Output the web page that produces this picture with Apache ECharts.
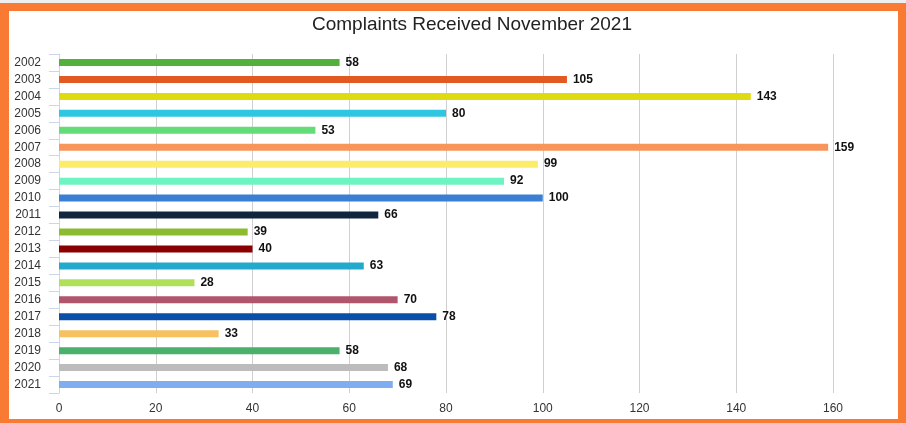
<!DOCTYPE html>
<html>
<head>
<meta charset="utf-8">
<script src="https://cdn.jsdelivr.net/npm/echarts@6/dist/echarts.min.js"></script>
<style>
html,body{margin:0;padding:0;background:#eeeeee;}
#wrap{position:absolute;left:0;top:3px;width:906px;height:420px;background:#f97a33;}
#chart{position:absolute;left:9px;top:8px;width:889px;height:408px;background:#fff;}
</style>
</head>
<body>
<div id="wrap"><div id="chart"></div></div>
<script>
const title = 'Complaints Received November 2021';
const categories = ['2002','2003','2004','2005','2006','2007','2008','2009','2010','2011','2012','2013','2014','2015','2016','2017','2018','2019','2020','2021'];
const values = [58,105,143,80,53,159,99,92,100,66,39,40,63,28,70,78,33,58,68,69];
const barColors = ['#52b13a','#e25a22','#dedc10','#2ec6e0','#64dd78','#f7955a','#fbec6a','#6ef3c2','#3a7fd4','#10263f','#8cbb30','#8a0000','#22aacc','#b0e05a','#b0556c','#0a4fa8','#f7c060','#4ab06a','#bcbcbc','#80adf0'];
const xTicks = [0,20,40,60,80,100,120,140,160];

const chart = echarts.init(document.getElementById('chart'), null, {renderer:'canvas'});
chart.setOption({
  animation:false,
  title:{text:title,left:298,top:-1,textStyle:{fontFamily:'Liberation Sans, Arial',fontSize:19,fontWeight:'normal',color:'#222'}},
  grid:{left:50,right:65,top:43,bottom:26,containLabel:false},
  xAxis:{type:'value',min:xTicks[0],max:xTicks[xTicks.length-1],interval:20,
    axisLine:{show:false},axisTick:{show:false},
    axisLabel:{color:'#333',fontSize:12,fontFamily:'Liberation Sans, Arial',margin:10},
    splitLine:{show:true,lineStyle:{color:'#d0d0d0',width:1}}},
  yAxis:{type:'category',data:categories,inverse:true,
    axisLine:{show:true,lineStyle:{color:'#ccd6eb'}},
    axisTick:{show:true,length:10,lineStyle:{color:'#ccd6eb'}},
    axisLabel:{color:'#333',fontSize:12,fontFamily:'Liberation Sans, Arial',margin:18}},
  series:[{type:'bar',barWidth:7,
    data:values.map((v,i)=>({value:v,itemStyle:{color:barColors[i]}})),
    label:{show:true,position:'right',distance:6,color:'#111',fontSize:12,fontWeight:'bold',fontFamily:'Liberation Sans, Arial'}}]
});
</script>
</body>
</html>
